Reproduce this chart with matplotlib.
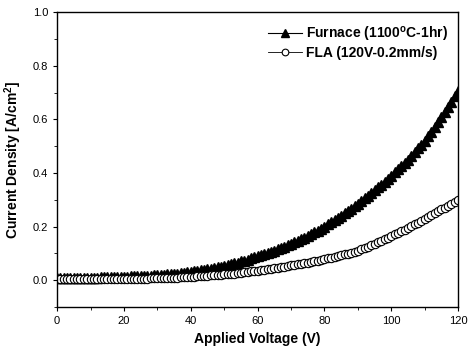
import numpy as np
import matplotlib
matplotlib.use('Agg')
import matplotlib.pyplot as plt
from matplotlib.ticker import MultipleLocator

plt.rcParams['font.family'] = ['Liberation Sans', 'DejaVu Sans']
plt.rcParams['mathtext.fontset'] = 'custom'
plt.rcParams['mathtext.rm'] = 'Liberation Sans:bold'
plt.rcParams['mathtext.bf'] = 'Liberation Sans:bold'

# applied voltage (V), one point per volt
voltage = list(range(0, 121))

# current density (A/cm^2)
furnace = [
    0.010, 0.010, 0.010, 0.010, 0.010, 0.010, 0.010, 0.010, 0.010, 0.010,
    0.010, 0.010, 0.010, 0.011, 0.011, 0.011, 0.011, 0.012, 0.012, 0.012,
    0.013, 0.013, 0.014, 0.014, 0.015, 0.015, 0.016, 0.017, 0.017, 0.018,
    0.019, 0.020, 0.021, 0.022, 0.023, 0.024, 0.025, 0.026, 0.028, 0.029,
    0.031, 0.033, 0.035, 0.037, 0.039, 0.041, 0.043, 0.046, 0.048, 0.051,
    0.054, 0.057, 0.060, 0.063, 0.066, 0.070, 0.073, 0.077, 0.081, 0.085,
    0.089, 0.093, 0.097, 0.101, 0.106, 0.110, 0.115, 0.120, 0.125, 0.130,
    0.135, 0.141, 0.147, 0.153, 0.159, 0.165, 0.171, 0.178, 0.185, 0.192,
    0.200, 0.208, 0.216, 0.224, 0.232, 0.240, 0.249, 0.258, 0.267, 0.276,
    0.285, 0.295, 0.305, 0.315, 0.325, 0.335, 0.346, 0.357, 0.368, 0.379,
    0.390, 0.402, 0.414, 0.426, 0.438, 0.450, 0.464, 0.478, 0.492, 0.506,
    0.520, 0.537, 0.554, 0.572, 0.590, 0.608, 0.627, 0.646, 0.666, 0.686,
    0.706,
]

fla = [
    0.003, 0.003, 0.003, 0.003, 0.003, 0.003, 0.003, 0.003, 0.003, 0.003,
    0.003, 0.003, 0.003, 0.003, 0.003, 0.004, 0.004, 0.004, 0.004, 0.004,
    0.004, 0.005, 0.005, 0.005, 0.005, 0.006, 0.006, 0.006, 0.007, 0.007,
    0.007, 0.008, 0.008, 0.009, 0.009, 0.010, 0.010, 0.011, 0.011, 0.012,
    0.013, 0.013, 0.014, 0.015, 0.016, 0.017, 0.018, 0.019, 0.020, 0.021,
    0.022, 0.023, 0.024, 0.025, 0.027, 0.028, 0.030, 0.031, 0.033, 0.034,
    0.036, 0.038, 0.039, 0.041, 0.043, 0.045, 0.047, 0.049, 0.051, 0.053,
    0.055, 0.057, 0.059, 0.061, 0.064, 0.066, 0.068, 0.071, 0.073, 0.076,
    0.078, 0.081, 0.084, 0.087, 0.090, 0.093, 0.096, 0.099, 0.102, 0.105,
    0.110, 0.115, 0.120, 0.125, 0.130, 0.135, 0.141, 0.147, 0.153, 0.159,
    0.165, 0.171, 0.177, 0.183, 0.189, 0.195, 0.201, 0.208, 0.215, 0.222,
    0.229, 0.236, 0.243, 0.250, 0.257, 0.264, 0.271, 0.278, 0.285, 0.292,
    0.300,
]

labels = ['Furnace (1100$^{\\mathrm{o}}$C-1hr)', 'FLA (120V-0.2mm/s)']

fig = plt.figure(figsize=(4.68, 3.57), dpi=100)
ax = fig.add_axes([0.122, 0.140, 0.857, 0.826])

ax.plot(voltage, furnace, color='black', linewidth=0.8, marker='^',
        markersize=7.5, markerfacecolor='black', markeredgecolor='black',
        label=labels[0])
ax.plot(voltage, fla, color='black', linewidth=0.6, marker='o',
        markersize=6, markerfacecolor='white', markeredgecolor='black',
        markeredgewidth=0.8, label=labels[1])

ax.set_xlim(0, 120)
ax.set_ylim(-0.1, 1.0)
ax.xaxis.set_major_locator(MultipleLocator(20))
ax.xaxis.set_minor_locator(MultipleLocator(10))
ax.yaxis.set_major_locator(MultipleLocator(0.2))
ax.yaxis.set_minor_locator(MultipleLocator(0.1))
ax.tick_params(which='both', direction='out', top=False, right=False,
               labelsize=8)
ax.tick_params(which='major', length=3)
ax.tick_params(which='minor', length=2)
ax.set_yticklabels(['%.1f' % v for v in ax.get_yticks()])

for s in ax.spines.values():
    s.set_linewidth(1.0)

ax.set_xlabel('Applied Voltage (V)', fontsize=10, fontweight='bold')
ax.set_ylabel('Current Density [A/cm$^{\\mathbf{2}}$]', fontsize=10,
              fontweight='bold', labelpad=6)

leg = ax.legend(loc='upper right', bbox_to_anchor=(1.005, 1.0), frameon=False,
                handlelength=2.4, handletextpad=0.3, labelspacing=0.15,
                markerscale=0.8, prop={'weight': 'bold', 'size': 10})

plt.savefig('out.png', dpi=100)
